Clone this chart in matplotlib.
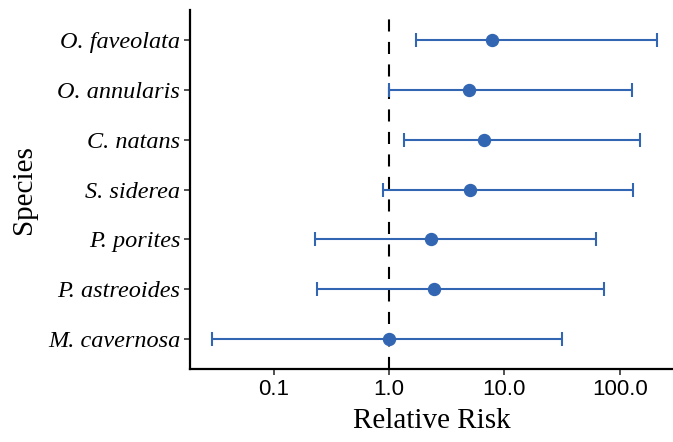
import matplotlib
matplotlib.use("Agg")
import matplotlib.pyplot as plt
from matplotlib.ticker import FixedLocator, FixedFormatter, NullLocator

# species listed bottom to top
species = ["M. cavernosa", "P. astreoides", "P. porites", "S. siderea",
           "C. natans", "O. annularis", "O. faveolata"]
rr = [1.0, 2.44, 2.31, 5.0, 6.67, 4.97, 7.8]
lower = [0.0294, 0.239, 0.228, 0.89, 1.36, 1.0, 1.72]
upper = [31.7, 73.7, 62.4, 131, 150, 127, 211]

x_ticks = [0.1, 1.0, 10.0, 100.0]
x_tick_labels = ["0.1", "1.0", "10.0", "100.0"]

blue = "#3366B2"

fig = plt.figure(figsize=(6.73, 4.42), dpi=100)
ax = fig.add_axes([190 / 673, 1 - 369 / 442, 1 - 190 / 673, (369 - 10) / 442])

ypos = list(range(1, len(species) + 1))
err = [[r - lo for r, lo in zip(rr, lower)], [up - r for r, up in zip(rr, upper)]]

ax.axvline(1.0, color="black", lw=1.5, dashes=(5.8, 5.0), zorder=1)
ax.errorbar(rr, ypos, xerr=err, fmt="o", color=blue, ecolor=blue,
            elinewidth=1.5, capsize=5.3, capthick=1.5, markersize=8.6, zorder=3)

ax.set_xscale("log")
ax.set_xlim(0.0188, 290)
ax.set_ylim(0.4, len(species) + 0.6)

ax.xaxis.set_major_locator(FixedLocator(x_ticks))
ax.xaxis.set_major_formatter(FixedFormatter(x_tick_labels))
ax.xaxis.set_minor_locator(NullLocator())

ax.set_yticks(ypos)
ax.set_yticklabels(species, fontfamily="Liberation Serif", fontstyle="italic", fontsize=17.5)
for lbl in ax.get_xticklabels():
    lbl.set_fontfamily("Liberation Sans")
    lbl.set_fontsize(16)

ax.tick_params(axis="both", length=4, width=1.2, color="#333333", pad=3)
for side in ["top", "right"]:
    ax.spines[side].set_visible(False)
for side in ["left", "bottom"]:
    ax.spines[side].set_linewidth(1.6)
    ax.spines[side].set_color("black")

ax.set_xlabel("Relative Risk", fontfamily="Liberation Serif", fontsize=21, labelpad=6)
ax.set_ylabel("Species", fontfamily="Liberation Serif", fontsize=21, labelpad=8)

fig.savefig("out.png", dpi=100)
